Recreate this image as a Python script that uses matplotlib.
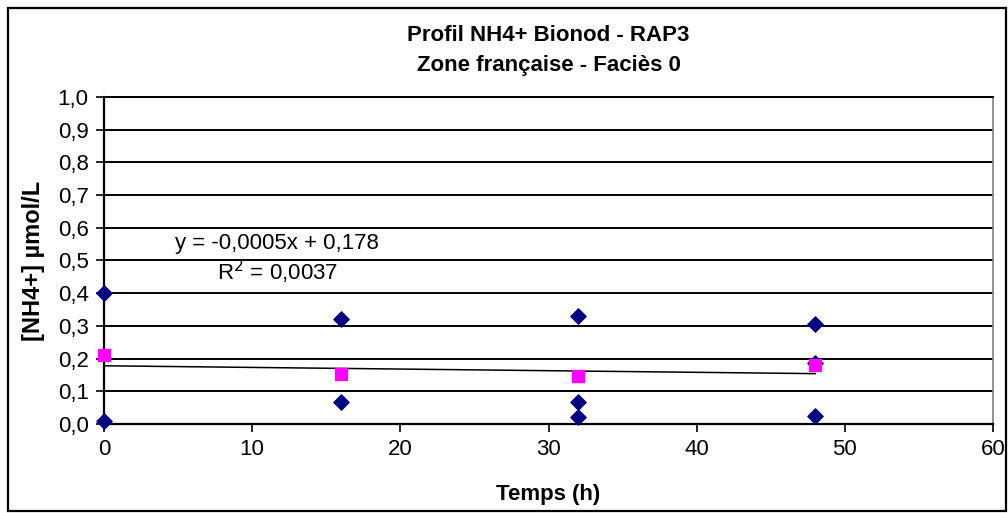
import matplotlib.pyplot as plt
from matplotlib.patches import Rectangle
from matplotlib.ticker import FuncFormatter

# mesures individuelles (losanges bleus)
temps_ind = [0, 0, 16, 16, 32, 32, 32, 48, 48, 48]
nh4_ind = [0.40, 0.01, 0.32, 0.067, 0.33, 0.067, 0.022, 0.306, 0.187, 0.024]

# moyennes (carrés roses)
temps_moy = [0, 16, 32, 48]
nh4_moy = [0.21, 0.154, 0.148, 0.18]

# droite de tendance
pente = -0.0005
origine = 0.178
r2 = 0.0037
trend_x = [0, 48]

plt.rcParams['font.family'] = ['Liberation Sans', 'DejaVu Sans']

fig = plt.figure(figsize=(10.08, 5.13), dpi=100)
fig.patches.append(Rectangle((0.0079, 0.004), 0.990, 0.980, transform=fig.transFigure,
                             fill=False, edgecolor='black', linewidth=1.6))

ax = fig.add_axes([0.1032, 0.1735, 0.8819, 0.6375])
ax.set_xlim(0, 60)
ax.set_ylim(0, 1.0)
ax.set_xticks(range(0, 61, 10))
ax.set_yticks([i / 10 for i in range(11)])
ax.yaxis.set_major_formatter(FuncFormatter(lambda v, p: f"{v:.1f}".replace('.', ',')))
ax.grid(axis='y', color='black', linewidth=1.4)
ax.set_axisbelow(True)
ax.spines['top'].set_linewidth(1.4)
ax.spines['right'].set_color('#808080')
ax.spines['right'].set_linewidth(1.2)
for s in ['left', 'bottom']:
    ax.spines[s].set_linewidth(1.6)
ax.tick_params(direction='out', length=6, width=1.2, labelsize=16, pad=5)

ty = [pente * x + origine for x in trend_x]
ax.plot(trend_x, ty, color='black', linewidth=1.1, zorder=3)
ax.scatter(temps_ind, nh4_ind, marker='D', s=60, color='#000080', zorder=4, clip_on=False)
ax.scatter(temps_moy, nh4_moy, marker='s', s=70, color='#FF00FF', zorder=5, clip_on=False)

eq = f"y = {pente:.4f}x + {origine:.3f}".replace('.', ',')
ax.text(11.7, 0.553, eq, ha='center', va='center', fontsize=16)
ax.text(11.7, 0.465, f"R$^2$ = {r2:.4f}".replace('.', ','), ha='center', va='center', fontsize=16)

ax.set_xlabel("Temps (h)", fontsize=16, fontweight='bold', labelpad=17)
ax.set_ylabel("[NH4+] µmol/L", fontsize=17, fontweight='bold', labelpad=9)
ax.set_title("Profil NH4+ Bionod - RAP3\nZone française - Faciès 0", fontsize=16,
             fontweight='bold', pad=19, linespacing=1.55)

plt.savefig('out.png', dpi=100)
